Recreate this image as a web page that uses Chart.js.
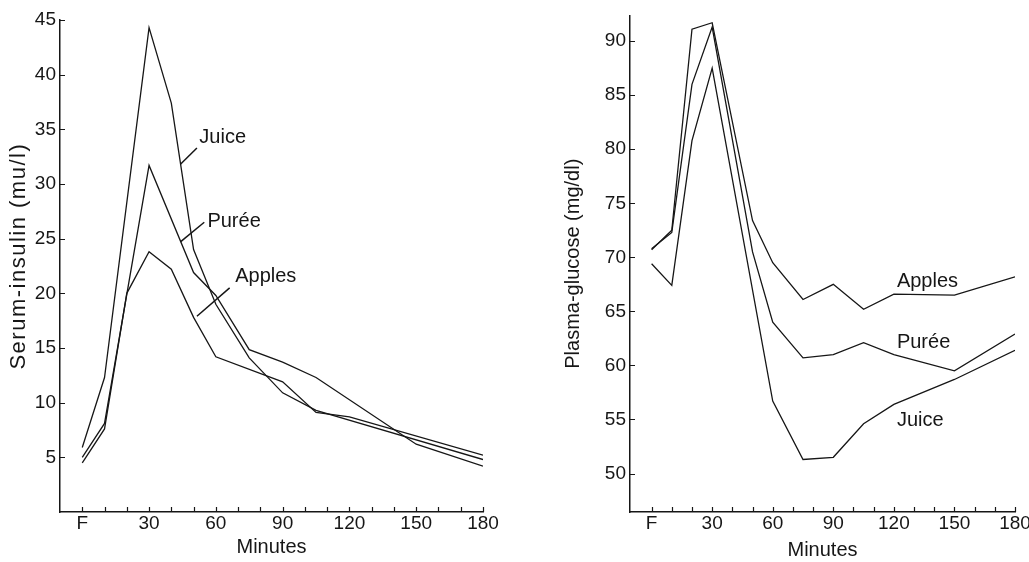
<!DOCTYPE html>
<html>
<head>
<meta charset="utf-8">
<script src="https://cdn.jsdelivr.net/npm/chart.js@4.4.1/dist/chart.umd.min.js"></script>
<style>
  html, body { margin: 0; padding: 0; background: #fff; overflow: hidden; width: 1029px; height: 562px; }
  canvas { position: absolute; top: 0; }
  #insulin { left: 0; }
  #glucose { left: 515px; }
</style>
</head>
<body>
<canvas id="insulin" width="520" height="562"></canvas>
<canvas id="glucose" width="530" height="562"></canvas>
<script>
// Sampling times are minutes after the fasting sample "F" (plotted at 0).

// Serum insulin (mu/l)
const insulinJuiceMin   = [0, 10, 30, 40, 50, 60, 75, 90, 105, 180];
const insulinJuice      = [5.9, 12.3, 44.3, 37.4, 24.0, 19.0, 14.1, 10.9, 9.3, 4.8];
const insulinPureeMin   = [0, 10, 30, 50, 60, 75, 90, 105, 150, 180];
const insulinPuree      = [5.0, 8.1, 31.7, 21.9, 19.8, 14.85, 13.7, 12.3, 6.2, 4.2];
const insulinApplesMin  = [0, 10, 20, 30, 40, 50, 60, 90, 105, 120, 180];
const insulinApples     = [4.5, 7.6, 20.0, 23.8, 22.2, 17.8, 14.2, 11.9, 9.1, 8.7, 5.2];

// Plasma glucose (mg/dl)
const glucoseApplesMin  = [0, 10, 20, 30, 50, 60, 75, 90, 105, 120, 150, 180];
const glucoseApples     = [70.7, 72.5, 91.1, 91.7, 73.4, 69.5, 66.1, 67.5, 65.2, 66.6, 66.5, 68.2];
const glucosePureeMin   = [0, 10, 20, 30, 50, 60, 75, 90, 105, 120, 150, 180];
const glucosePuree      = [70.8, 72.3, 86.0, 91.3, 70.5, 64.0, 60.7, 61.0, 62.1, 61.0, 59.5, 62.9];
const glucoseJuiceMin   = [0, 10, 20, 30, 60, 75, 90, 105, 120, 150, 180];
const glucoseJuice      = [69.4, 67.4, 80.8, 87.5, 56.7, 51.3, 51.5, 54.6, 56.4, 58.7, 61.4];

// Axis ticks
const minuteLabels   = [0, 30, 60, 90, 120, 150, 180];
const minuteMarks    = [0, 10, 20, 30, 40, 50, 60, 70, 80, 90, 100, 110, 120, 130, 140, 150, 160, 170, 180];
const insulinTicks   = [5, 10, 15, 20, 25, 30, 35, 40, 45];
const glucoseTicks   = [50, 55, 60, 65, 70, 75, 80, 85, 90];

const INK = '#161616';
const FONT = '"Liberation Sans", Arial, Helvetica, sans-serif';

const toPoints = (xs, ys) => xs.map((m, i) => ({ x: m, y: ys[i] }));
const series = (label, xs, ys) => ({
  label,
  data: toPoints(xs, ys),
  borderColor: INK,
  borderWidth: 1.3,
  pointRadius: 0,
  tension: 0,
  fill: false
});

// Inward tick marks, the curve labels and (optionally) a hand-placed axis title
const frame = {
  id: 'frame',
  afterDraw(chart, args, opts) {
    const { ctx, chartArea: a, scales: { x, y } } = chart;
    ctx.save();
    ctx.strokeStyle = INK;
    ctx.lineWidth = 1.2;
    ctx.beginPath();
    opts.xMarks.forEach(m => {
      const px = Math.round(x.getPixelForValue(m)) + 0.5;
      ctx.moveTo(px, a.bottom);
      ctx.lineTo(px, a.bottom - 5);
    });
    opts.yMarks.forEach(v => {
      const py = Math.round(y.getPixelForValue(v)) + 0.5;
      ctx.moveTo(a.left, py);
      ctx.lineTo(a.left + 5, py);
    });
    ctx.stroke();

    ctx.font = '20px ' + FONT;
    ctx.fillStyle = INK;
    ctx.textBaseline = 'middle';
    ctx.textAlign = 'left';
    opts.notes.forEach(n => {
      if (n.lead) {
        ctx.beginPath();
        ctx.lineWidth = 1.5;
        ctx.moveTo(x.getPixelForValue(n.lead[0]), y.getPixelForValue(n.lead[1]));
        ctx.lineTo(x.getPixelForValue(n.lead[2]), y.getPixelForValue(n.lead[3]));
        ctx.stroke();
      }
      ctx.fillText(n.text, x.getPixelForValue(n.x), y.getPixelForValue(n.y));
    });

    const t = opts.sideTitle;
    if (t) {
      ctx.save();
      ctx.translate(t.left, y.getPixelForValue(t.at));
      ctx.rotate(-Math.PI / 2);
      ctx.font = t.size + 'px ' + FONT;
      if ('letterSpacing' in ctx) ctx.letterSpacing = t.spacing + 'px';
      ctx.textAlign = 'center';
      ctx.textBaseline = 'middle';
      ctx.fillText(t.text, 0, 0);
      ctx.restore();
    }
    ctx.restore();
  }
};

function makeChart(id, cfg) {
  return new Chart(document.getElementById(id), {
    type: 'line',
    data: { datasets: cfg.datasets },
    plugins: [frame],
    options: {
      responsive: false,
      animation: false,
      events: [],
      layout: { padding: cfg.padding },
      plugins: {
        legend: { display: false },
        tooltip: { enabled: false },
        frame: { xMarks: minuteMarks, yMarks: cfg.yTicks, notes: cfg.notes, sideTitle: cfg.sideTitle }
      },
      scales: {
        x: {
          type: 'linear',
          min: cfg.xMin,
          max: 180,
          afterBuildTicks: s => { s.ticks = minuteLabels.map(v => ({ value: v })); },
          afterFit: s => { s.height = 50; },
          grid: { display: false, drawTicks: false },
          border: { display: true, color: INK, width: 1.5 },
          ticks: {
            color: INK,
            padding: 0,
            maxRotation: 0,
            autoSkip: false,
            font: { family: FONT, size: 19, lineHeight: 1.2 },
            callback: v => (v === 0 ? 'F' : String(v))
          },
          title: {
            display: true,
            text: 'Minutes',
            color: INK,
            padding: { top: 0, bottom: cfg.minutesLift },
            font: { family: FONT, size: 20, lineHeight: 1.2 }
          }
        },
        y: {
          type: 'linear',
          min: cfg.yMin,
          max: cfg.yMax,
          afterBuildTicks: s => { s.ticks = cfg.yTicks.map(v => ({ value: v })); },
          afterFit: s => { s.width = cfg.yWidth; },
          grid: { display: false, drawTicks: false },
          border: { display: true, color: INK, width: 1.5 },
          ticks: {
            color: INK,
            padding: 4,
            autoSkip: false,
            font: { family: FONT, size: 19 }
          },
          title: {
            display: !!cfg.yTitle,
            text: cfg.yTitle || '',
            color: INK,
            padding: { top: cfg.titleGap || 0, bottom: 0 },
            font: { family: FONT, size: 20, lineHeight: 1.2 }
          }
        }
      }
    }
  });
}

makeChart('insulin', {
  datasets: [
    series('Juice', insulinJuiceMin, insulinJuice),
    series('Purée', insulinPureeMin, insulinPuree),
    series('Apples', insulinApplesMin, insulinApples)
  ],
  padding: { top: 20, right: 37, bottom: 0, left: 0 },
  xMin: -10,
  yMin: 0,
  yMax: 45,
  yTicks: insulinTicks,
  yWidth: 60,
  minutesLift: 3,
  sideTitle: { text: 'Serum-insulin (mu/l)', left: 19, at: 23.4, size: 22, spacing: 1.5 },
  notes: [
    { text: 'Juice',  x: 52.6, y: 34.3, lead: [44.1, 31.8, 51.5, 33.3] },
    { text: 'Purée',  x: 56.2, y: 26.6, lead: [44.1, 24.7, 54.8, 26.5] },
    { text: 'Apples', x: 68.7, y: 21.5, lead: [51.5, 17.9, 66.2, 20.5] }
  ]
});

makeChart('glucose', {
  datasets: [
    series('Apples', glucoseApplesMin, glucoseApples),
    series('Purée', glucosePureeMin, glucosePuree),
    series('Juice', glucoseJuiceMin, glucoseJuice)
  ],
  padding: { top: 14, right: 30, bottom: 0, left: 0 },
  xMin: -10.7,
  yMin: 46.44,
  yMax: 92.38,
  yTicks: glucoseTicks,
  yWidth: 115,
  yTitle: 'Plasma-glucose (mg/dl)',
  titleGap: 46,
  minutesLift: 0,
  notes: [
    { text: 'Apples', x: 121.5, y: 67.8 },
    { text: 'Purée',  x: 121.5, y: 62.1 },
    { text: 'Juice',  x: 121.5, y: 54.9 }
  ]
});
</script>
</body>
</html>
